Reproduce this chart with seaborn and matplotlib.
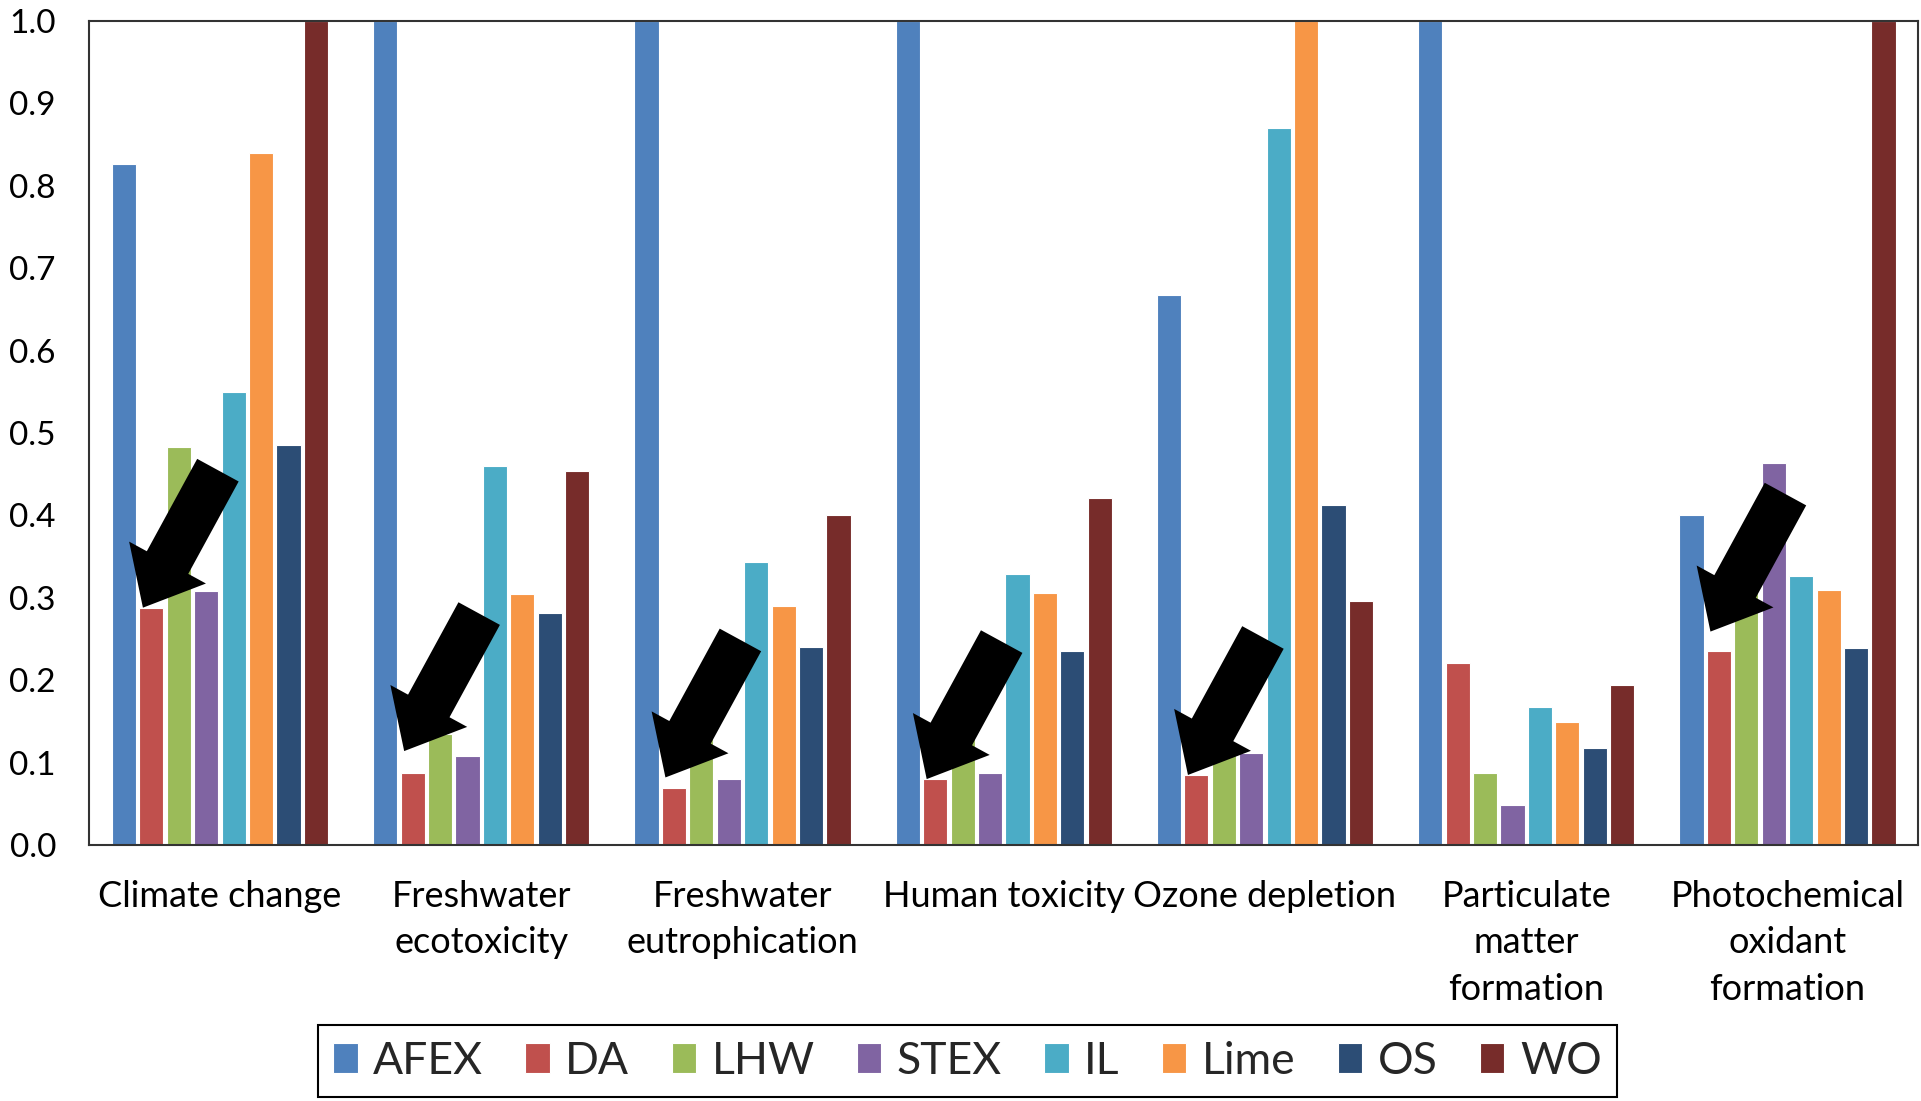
import matplotlib
matplotlib.use("Agg")
import matplotlib.pyplot as plt
import seaborn as sns
import pandas as pd

# ---- data ----
categories = ["Climate change", "Freshwater\necotoxicity", "Freshwater\neutrophication",
              "Human toxicity", "Ozone depletion", "Particulate\nmatter\nformation",
              "Photochemical\noxidant\nformation"]
series_names = ["AFEX", "DA", "LHW", "STEX", "IL", "Lime", "OS", "WO"]
AFEX = [0.826, 1.000, 1.000, 1.000, 0.667, 1.000, 0.400]
DA   = [0.288, 0.087, 0.069, 0.080, 0.085, 0.221, 0.236]
LHW  = [0.483, 0.135, 0.130, 0.145, 0.124, 0.087, 0.362]
STEX = [0.308, 0.108, 0.080, 0.087, 0.112, 0.049, 0.463]
IL   = [0.550, 0.460, 0.343, 0.329, 0.870, 0.168, 0.327]
Lime = [0.840, 0.304, 0.290, 0.306, 1.000, 0.149, 0.309]
OS   = [0.486, 0.282, 0.240, 0.235, 0.412, 0.118, 0.239]
WO   = [1.000, 0.454, 0.401, 0.421, 0.296, 0.194, 1.000]
yticks = [0.0, 0.1, 0.2, 0.3, 0.4, 0.5, 0.6, 0.7, 0.8, 0.9, 1.0]
# categories whose DA bar is pointed at by a black arrow, and the small lift of each arrow tip
arrow_categories = [0, 1, 2, 3, 4, 6]
arrow_lift = [0.0, 0.027, 0.013, 0.0, 0.0, 0.023]

colors = ["#4F81BD", "#C0504D", "#9BBB59", "#8064A2", "#4BACC6", "#F79646", "#2C4D75", "#772C2A"]

series_values = [AFEX, DA, LHW, STEX, IL, Lime, OS, WO]
rows = []
for name, vals in zip(series_names, series_values):
    for cat, v in zip(categories, vals):
        rows.append({"category": cat, "series": name, "value": v})
df = pd.DataFrame(rows)

sns.set_theme(style="white")
plt.rcParams["font.family"] = ["Lato", "DejaVu Sans"]

fig = plt.figure(figsize=(19.21, 11.01), dpi=100)
ax = fig.add_axes([0.0465, 0.2325, 0.952, 0.7485])

sns.barplot(data=df, x="category", y="value", hue="series", order=categories,
            hue_order=series_names, palette=colors, width=0.84, gap=0.12,
            saturation=1, edgecolor="white", linewidth=0.8, ax=ax, legend=True)

ax.set_ylim(0, 1.0)
ax.set_xlim(-0.5, len(categories) - 0.5)
ax.set_yticks(yticks)
ax.set_yticklabels([f"{t:.1f}" for t in yticks])
ax.set_xlabel("")
ax.set_ylabel("")
ax.tick_params(axis="y", length=0, pad=24, labelsize=24, labelcolor="black")
ax.tick_params(axis="x", length=0, pad=25, labelsize=26, labelcolor="black")
for lbl in ax.get_xticklabels():
    lbl.set_linespacing(1.5)
    lbl.set_verticalalignment("top")
for sp in ax.spines.values():
    sp.set_visible(True)
    sp.set_color("#333333")
    sp.set_linewidth(1.5)

# arrows pointing at DA bars
da_bars = ax.containers[1]
for ci, lift in zip(arrow_categories, arrow_lift):
    bar = da_bars[ci]
    tip = (bar.get_x() + 0.15 * bar.get_width(), bar.get_height() + lift)
    ax.annotate("", xy=tip, xytext=(54, 99), textcoords="offset points",
                arrowprops=dict(arrowstyle="simple,head_length=37,head_width=63,tail_width=34",
                                mutation_scale=1, fc="black", ec="black", lw=0,
                                shrinkA=0, shrinkB=0),
                zorder=10, annotation_clip=False)

handles, labels = ax.get_legend_handles_labels()
ax.get_legend().remove()
leg = fig.legend(handles, labels, loc="center", bbox_to_anchor=(0.5036, 0.036),
                 ncol=8, fontsize=32, frameon=True, fancybox=False, framealpha=1,
                 edgecolor="black", handlelength=0.55, handleheight=0.66,
                 handletextpad=0.35, columnspacing=0.95, borderpad=0.35)
leg.get_frame().set_linewidth(1.5)

fig.savefig("out.png", dpi=100)
